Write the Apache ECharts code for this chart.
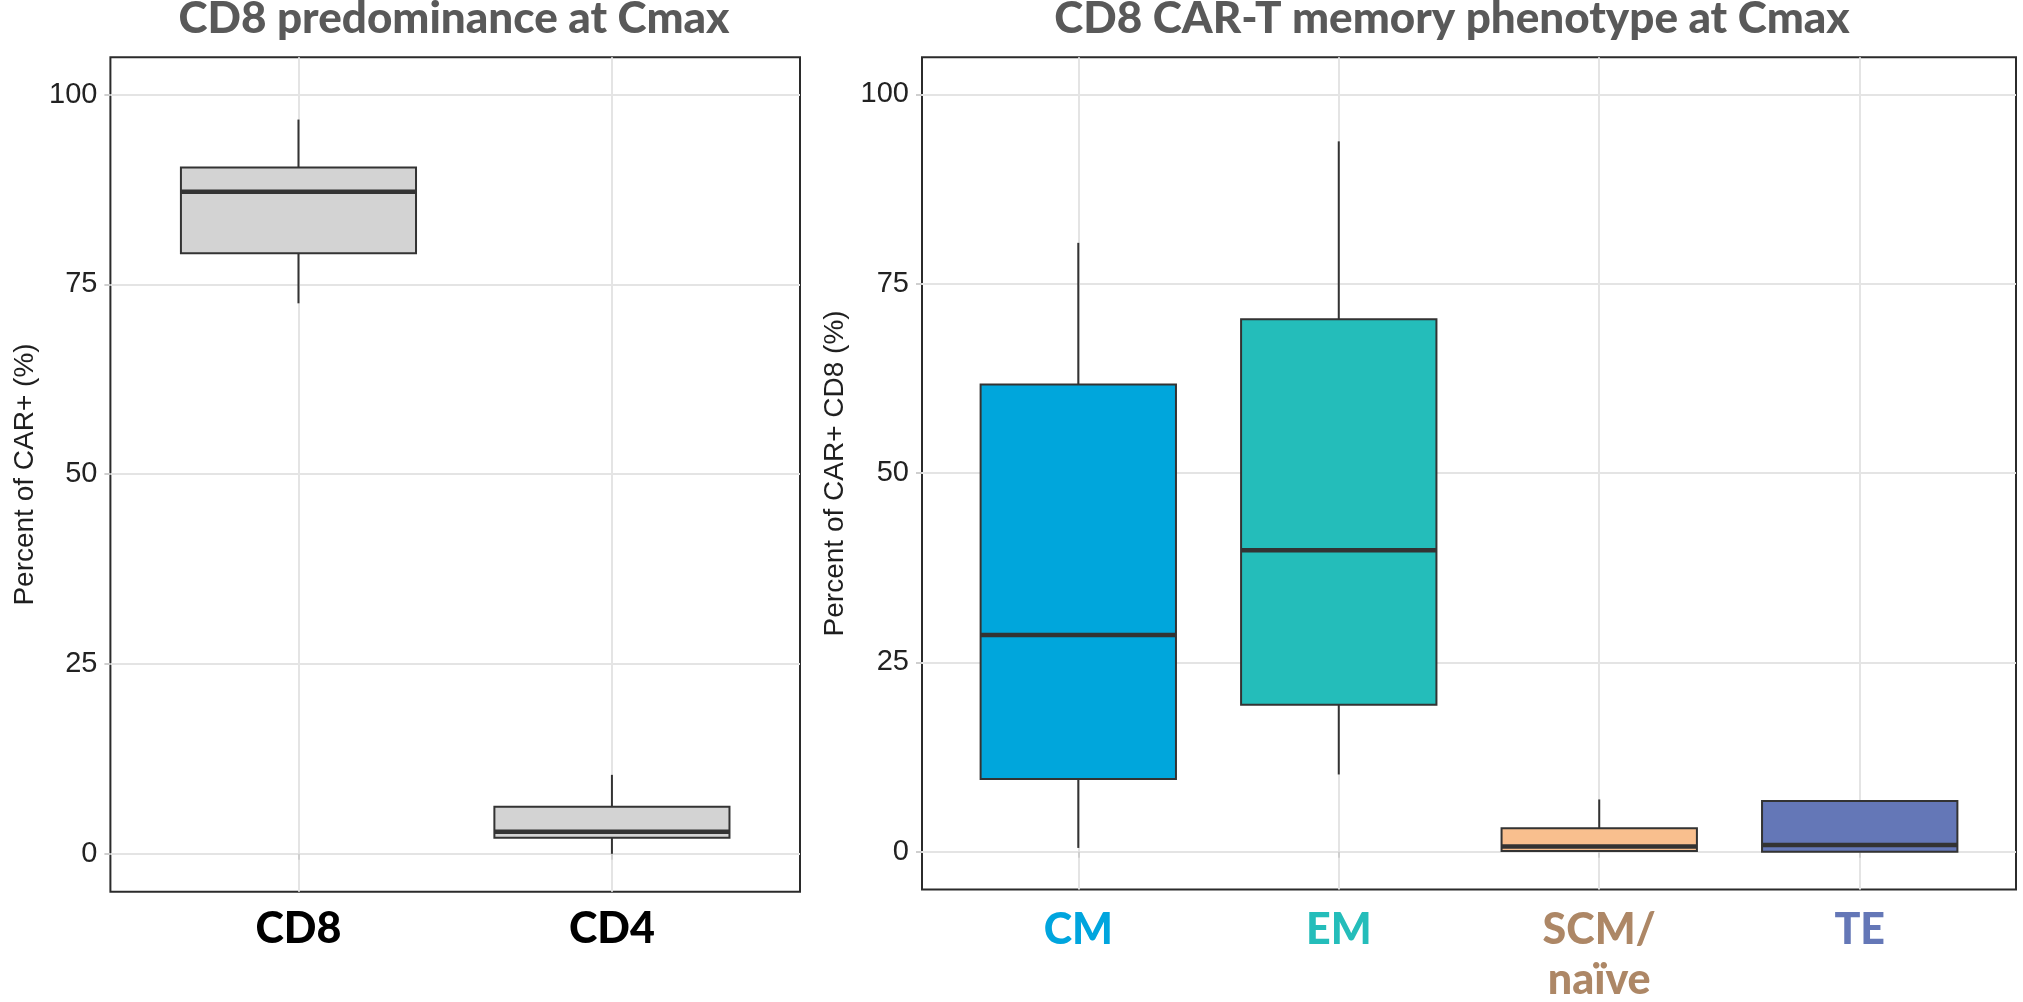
<!DOCTYPE html>
<html>
<head>
<meta charset="utf-8">
<script src="https://cdn.jsdelivr.net/npm/echarts@6/dist/echarts.min.js"></script>
<style>
  html, body { margin: 0; padding: 0; background: #ffffff; }
  #chart { width: 2023px; height: 1002px; }
</style>
</head>
<body>
<div id="chart"></div>
<script>
// CD8 vs CD4 share of CAR+ cells at Cmax (box statistics, %)
const lineageCategories = ['CD8', 'CD4'];
const lineageMin    = [72.5, 0.0];
const lineageQ1     = [79.1, 2.1];
const lineageMedian = [87.2, 2.9];
const lineageQ3     = [90.4, 6.2];
const lineageMax    = [96.7, 10.4];

// CD8 CAR-T memory subsets at Cmax (box statistics, %)
const memoryCategories = ['CM', 'EM', 'SCM/\nnaïve', 'TE'];
const memoryMin    = [0.5, 10.2, 0.0, 0.0];
const memoryQ1     = [9.6, 19.4, 0.1, 0.0];
const memoryMedian = [28.6, 39.8, 0.7, 0.9];
const memoryQ3     = [61.7, 70.3, 3.1, 6.7];
const memoryMax    = [80.4, 93.8, 6.9, 6.7];

// y axis tick labels
const yTicks = [0, 25, 50, 75, 100];

const lineageFill = ['#D3D3D3', '#D3D3D3'];
const memoryFill = ['#00A6DC', '#24BDBA', '#F9BF8E', '#6477B7'];
const memoryLabelColor = ['#00A5DE', '#24BDBA', '#AD8766', '#6477B7'];

const headFont = 'Lato, "Open Sans", "DejaVu Sans", sans-serif';
const axisFont = '"Liberation Sans", Arial, sans-serif';
const edge = '#333333';

function toRows(mins, q1s, meds, q3s, maxs) {
  return mins.map((m, i) => [i + 1, m, q1s[i], meds[i], q3s[i], maxs[i]]);
}

// ggplot-style box: whiskers, filled box, thick median bar
function boxRenderer(fills) {
  return function (params, api) {
    const x = api.value(0);
    const lo = api.coord([x, api.value(1)]);
    const q1 = api.coord([x, api.value(2)]);
    const md = api.coord([x, api.value(3)]);
    const q3 = api.coord([x, api.value(4)]);
    const hi = api.coord([x, api.value(5)]);
    const half = api.size([0.75, 0])[0] / 2;
    const cx = lo[0];
    const children = [];
    if (hi[1] < q3[1]) {
      children.push({ type: 'line', shape: { x1: cx, y1: q3[1], x2: cx, y2: hi[1] },
        style: { stroke: edge, lineWidth: 2 } });
    }
    if (lo[1] > q1[1]) {
      children.push({ type: 'line', shape: { x1: cx, y1: q1[1], x2: cx, y2: lo[1] },
        style: { stroke: edge, lineWidth: 2 } });
    }
    children.push({ type: 'rect',
      shape: { x: cx - half, y: q3[1], width: 2 * half, height: q1[1] - q3[1] },
      style: { fill: fills[params.dataIndex], stroke: edge, lineWidth: 2 } });
    children.push({ type: 'line',
      shape: { x1: cx - half, y1: md[1], x2: cx + half, y2: md[1] },
      style: { stroke: edge, lineWidth: 4.5 } });
    return { type: 'group', children: children };
  };
}

function yAxisFor(gridIndex, name) {
  return {
    type: 'value', gridIndex: gridIndex, min: -4.99, max: 104.9,
    name: name, nameLocation: 'middle', nameGap: 71,
    nameTextStyle: { fontFamily: axisFont, fontSize: 28, color: '#1f1f1f' },
    axisLine: { show: false },
    axisTick: { show: true, length: 6, customValues: yTicks,
      lineStyle: { color: '#CFCFCF', width: 2 } },
    axisLabel: { customValues: yTicks, margin: 13, fontFamily: axisFont,
      fontSize: 29, color: '#222222' },
    splitLine: { show: true, lineStyle: { color: '#E4E4E4', width: 2 } }
  };
}

const chart = echarts.init(document.getElementById('chart'), null, { renderer: 'canvas' });

const titleStyle = { fontFamily: headFont, fontWeight: 900, fontSize: 44, color: '#595959' };

chart.setOption({
  animation: false,
  backgroundColor: '#ffffff',
  title: [
    { text: 'CD8 predominance at Cmax', left: 454, top: -3, textAlign: 'center', padding: 0,
      textStyle: titleStyle },
    { text: 'CD8 CAR-T memory phenotype at Cmax', left: 1452, top: -3, textAlign: 'center', padding: 0,
      textStyle: titleStyle }
  ],
  grid: [
    { left: 110.4, top: 57.3, width: 689.6, height: 834.4, show: true,
      borderColor: '#2b2b2b', borderWidth: 2, backgroundColor: 'transparent' },
    { left: 922, top: 57.3, width: 1094, height: 834.4, show: true,
      borderColor: '#2b2b2b', borderWidth: 2, backgroundColor: 'transparent' }
  ],
  xAxis: [
    {
      type: 'value', gridIndex: 0, min: 0.4, max: 2.6,
      axisLine: { show: false },
      axisTick: { show: true, length: 6, customValues: [1, 2],
        lineStyle: { color: '#CFCFCF', width: 2 } },
      axisLabel: { customValues: [1, 2], margin: 16,
        formatter: v => lineageCategories[Math.round(v) - 1],
        fontFamily: headFont, fontWeight: 900, fontSize: 43, color: '#000000' },
      splitLine: { show: true, lineStyle: { color: '#E4E4E4', width: 2 } }
    },
    {
      type: 'value', gridIndex: 1, min: 0.4, max: 4.6,
      axisLine: { show: false },
      axisTick: { show: true, length: 6, customValues: [1, 2, 3, 4],
        lineStyle: { color: '#CFCFCF', width: 2 } },
      axisLabel: { customValues: [1, 2, 3, 4], margin: 16,
        formatter: v => {
          const i = Math.round(v) - 1;
          return memoryCategories[i].split('\n').map(s => '{c' + i + '|' + s + '}').join('\n');
        },
        rich: Object.fromEntries(memoryLabelColor.map((c, i) => ['c' + i, {
          color: c, fontFamily: headFont, fontWeight: 900, fontSize: 43, lineHeight: 50
        }]))
      },
      splitLine: { show: true, lineStyle: { color: '#E4E4E4', width: 2 } }
    }
  ],
  yAxis: [
    yAxisFor(0, 'Percent of CAR+ (%)'),
    yAxisFor(1, 'Percent of CAR+ CD8 (%)')
  ],
  series: [
    {
      type: 'custom', xAxisIndex: 0, yAxisIndex: 0,
      renderItem: boxRenderer(lineageFill),
      encode: { x: 0, y: [1, 2, 3, 4, 5] },
      data: toRows(lineageMin, lineageQ1, lineageMedian, lineageQ3, lineageMax)
    },
    {
      type: 'custom', xAxisIndex: 1, yAxisIndex: 1,
      renderItem: boxRenderer(memoryFill),
      encode: { x: 0, y: [1, 2, 3, 4, 5] },
      data: toRows(memoryMin, memoryQ1, memoryMedian, memoryQ3, memoryMax)
    }
  ]
});
</script>
</body>
</html>
